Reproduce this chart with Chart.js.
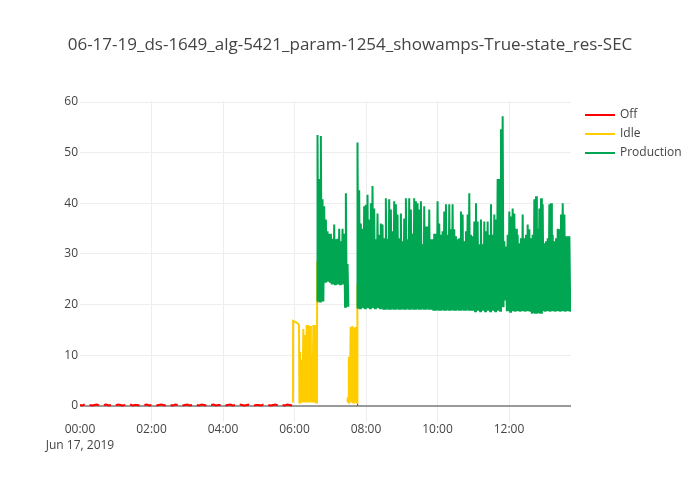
<!DOCTYPE html>
<html><head><meta charset="utf-8">
<script src="https://cdn.jsdelivr.net/npm/chart.js@4.4.1/dist/chart.umd.min.js"></script>
<style>html,body{margin:0;padding:0;background:#fff}canvas{display:block}</style>
</head><body>
<canvas id="c" width="700" height="500"></canvas>
<script>
// ---------------- DATA ----------------
const chartTitle = '06-17-19_ds-1649_alg-5421_param-1254_showamps-True-state_res-SEC';
const seriesNames = ['Off', 'Idle', 'Production'];
const seriesColors = ['#ff0000', '#ffcc00', '#00a651'];

// x in minutes since 00:00, Jun 17 2019
const xTickValues = [0, 120, 240, 360, 480, 600, 720];
const xTickLabels = ['00:00', '02:00', '04:00', '06:00', '08:00', '10:00', '12:00'];
const xDateLabel = 'Jun 17, 2019';
const yTickValues = [0, 10, 20, 30, 40, 50, 60];
const xRange = [0, 824];
const yRange = [-3.17, 60.2];

// Off state: sampled every 4 minutes from 00:00 (null = no Off sample)
const offStart = 0, offStep = 4;
const offValues = [0.2, 0.1, 0.3, null, 0.2, 0.1, 0.2, 0.3, 0.1, null,
                   0.2, 0.3, 0.1, 0.2, null, 0.1, 0.3, 0.2, 0.1, 0.2,
                   null, 0.3, 0.1, 0.2, 0.2, 0.1, null, 0.2, 0.3, 0.1,
                   0.2, null, 0.1, 0.2, 0.3, 0.2, 0.1, null, 0.2, 0.1,
                   0.3, 0.2, null, 0.1, 0.2, 0.3, 0.1, 0.2, null, 0.2,
                   0.1, 0.3, 0.2, 0.1, null, 0.2, 0.3, 0.1, 0.2, 0.2,
                   null, 0.1, 0.2, 0.3, 0.1, 0.2, null, 0.3, 0.2, 0.1,
                   0.2, 0.3, null, 0.1, 0.2, 0.2, 0.1, 0.3, null, 0.2,
                   0.1, 0.2, 0.3, 0.1, null, 0.2, 0.1, 0.3, 0.2, 0.1];
const offTailT = [464.8, 466.8];
const offTailV = [0.3, 0.3];

// Idle state
const idleStep = 2.8;
const idle1LeadT = [357.4, 357.7, 361, 364, 367.5, 368.2];
const idle1LeadV = [0.7, 16.8, 16.6, 16.4, 16.0, 0.7];
const idle1Start = 369.2;
const idle1Peaks = [10.7, 9.1, 15.2, 14.0, 16.0, 16.0, 15.8, 10.1, 16.0, 16.0];
const idle1Trough = 0.7;
const idle1EndT = [397.6, 398.0];
const idle1EndV = [0.7, 28.5];
const idle2LeadT = [448.6, 449.2, 450.0, 450.8];
const idle2LeadV = [0.8, 1.7, 0.8, 1.7];
const idle2Start = 451.4;
const idle2Peaks = [9.7, 15.6, 15.8, 15.5, 15.6];
const idle2Trough = 0.7;
const idle2EndT = [465.2, 465.5];
const idle2EndV = [0.7, 24];

// Production state
const prodStep = 2.8;
const prod1Start = 398.6;
const prod1Peaks = [53.5, 44.8, 53.3, 40.8, 39.4, 36.8, 34.5, 34, 34, 33,
                    35.8, 32.9, 33, 35, 32.5, 35, 34, 42, 28];
const prod1Troughs = [20.6, 20.6, 20.6, 20.6, 24.5, 24.5, 24.5, 24.5, 24, 24,
                      24, 24, 24, 24, 24, 24, 19.6, 19.6, 19.6];
const prod2Start = 465.7;
const prod2Peaks = [52, 42.6, 36, 35, 39.4, 39.7, 41.7, 36.8, 40, 43.4,
                    39, 32.9, 38, 33.8, 36, 35.8, 33.1, 41, 33, 40.8,
                    38.8, 34.5, 40.4, 39.8, 37.8, 33.1, 38, 32.5, 37, 41,
                    32.9, 41, 38.8, 34, 41, 40.4, 40, 38.8, 40.4, 31.9,
                    39.4, 35.4, 35.4, 38.8, 32.9, 32.9, 34, 34, 40.4, 36,
                    33.8, 34.5, 38.4, 39.8, 33.8, 39.8, 34.9, 39.8, 34.9, 33.5,
                    32.9, 33.1, 38.4, 37.8, 32.5, 34.5, 37.8, 42, 33.8, 33.5,
                    36.4, 40, 36.4, 31.9, 36.8, 31.9, 36.4, 34.5, 36.4, 33.8,
                    39.8, 33.8, 37.8, 36.8, 44.8, 44.8, 54.6, 57.2, 32.5, 31.5,
                    33.8, 38.4, 37.4, 39, 38, 35, 33.8, 32.1, 33.1, 37.8,
                    33.1, 33.8, 35.8, 34.9, 33.1, 33.8, 40.8, 41.4, 35, 39,
                    41, 39.8, 32.1, 32.5, 33.1, 39.8, 40, 33.8, 32.5, 33.1,
                    35, 34.9, 37.8, 40, 37.8, 33.5, 33.5, 33.5];
const prod2Troughs = [19.3, 19.3, 19.4, 19.3, 19.3, 19.4, 19.3, 19.3, 19.4, 19.3,
                      19.3, 19.4, 19.3, 19.3, 19.2, 19.0, 19.2, 19.2, 19.0, 19.2,
                      19.2, 19.0, 19.2, 19.2, 19.0, 19.2, 19.2, 19.0, 19.2, 19.2,
                      19.0, 19.2, 19.2, 19.0, 19.2, 19.2, 19.0, 19.2, 19.2, 19.0,
                      19.2, 19.2, 19.0, 19.2, 19.0, 18.8, 19.0, 19.0, 18.8, 19.0,
                      19.0, 18.8, 19.0, 19.0, 18.8, 19.0, 19.0, 18.8, 19.0, 19.0,
                      18.8, 19.0, 19.0, 18.8, 19.0, 19.0, 18.8, 19.0, 18.8, 18.8,
                      18.7, 18.8, 18.8, 18.7, 18.8, 18.8, 18.7, 18.8, 18.8, 18.7,
                      18.8, 18.8, 18.7, 18.8, 18.8, 18.8, 19.5, 19.5, 21, 18.7,
                      18.7, 18.6, 18.7, 18.7, 18.6, 18.7, 18.7, 18.6, 18.7, 18.7,
                      18.6, 18.7, 18.7, 18.6, 18.2, 18.3, 18.2, 18.2, 18.3, 18.2,
                      18.2, 18.7, 18.6, 18.7, 18.7, 18.6, 18.7, 18.7, 18.6, 18.7,
                      18.7, 18.6, 18.7, 18.7, 18.6, 18.7, 18.7, 18.6];

// ---------------- BUILD POINTS ----------------
function pairs(ts, vs) { return ts.map((t, i) => ({x: t, y: vs[i]})); }
function zigzag(start, step, peaks, troughs) {
  const pts = [];
  peaks.forEach((p, i) => {
    const lo = Array.isArray(troughs) ? troughs[i] : troughs;
    const lo0 = Array.isArray(troughs) ? troughs[0] : troughs;
    if (i === 0) pts.push({x: start - 0.2, y: lo0});
    pts.push({x: start + i * step, y: p});
    pts.push({x: start + i * step + step / 2, y: lo});
  });
  return pts;
}
const GAP = (t) => ({x: t, y: null});

const offData = offValues.map((v, i) => ({x: offStart + i * offStep, y: v}))
  .concat([GAP(400)], pairs(offTailT, offTailV));

const idleData = [].concat(
  pairs(idle1LeadT, idle1LeadV),
  zigzag(idle1Start, idleStep, idle1Peaks, idle1Trough),
  pairs(idle1EndT, idle1EndV),
  [GAP(420)],
  pairs(idle2LeadT, idle2LeadV),
  zigzag(idle2Start, idleStep, idle2Peaks, idle2Trough),
  pairs(idle2EndT, idle2EndV)
);

const prodData = [].concat(
  zigzag(prod1Start, prodStep, prod1Peaks, prod1Troughs),
  [GAP(458)],
  zigzag(prod2Start, prodStep, prod2Peaks, prod2Troughs)
);

// ---------------- CHART ----------------
const FONT = "'Open Sans', 'Noto Sans', sans-serif";
Chart.defaults.font.family = FONT;
Chart.defaults.color = '#444';

const legendPlugin = {
  id: 'plotlyLegend',
  afterDraw(chart) {
    const ctx = chart.ctx;
    ctx.save();
    seriesNames.forEach((name, i) => {
      const y = 115 + i * 19;
      ctx.strokeStyle = seriesColors[i];
      ctx.lineWidth = 2;
      ctx.beginPath();
      ctx.moveTo(585, y);
      ctx.lineTo(615, y);
      ctx.stroke();
      ctx.fillStyle = '#444';
      ctx.font = '12px ' + FONT;
      ctx.textBaseline = 'middle';
      ctx.textAlign = 'left';
      ctx.fillText(name, 620, y);
    });
    ctx.restore();
  }
};

const lineDs = (label, data, color, order, width) => ({
  label, data, borderColor: color, backgroundColor: color,
  borderWidth: width, pointRadius: 0, tension: 0, fill: false,
  spanGaps: false, order, parsing: false, normalized: true
});

new Chart(document.getElementById('c'), {
  type: 'line',
  data: {
    datasets: [
      lineDs(seriesNames[0], offData, seriesColors[0], 3, 2),
      lineDs(seriesNames[1], idleData, seriesColors[1], 2, 2),
      lineDs(seriesNames[2], prodData, seriesColors[2], 1, 2)
    ]
  },
  options: {
    responsive: false,
    animation: false,
    devicePixelRatio: 1,
    layout: {padding: 0},
    plugins: {
      legend: {display: false},
      tooltip: {enabled: false},
      title: {
        display: true,
        text: chartTitle,
        color: '#444',
        font: {family: FONT, size: 17, weight: 'normal'},
        padding: {top: 35, bottom: 45.6}
      }
    },
    scales: {
      x: {
        type: 'linear',
        min: xRange[0], max: xRange[1],
        afterBuildTicks: (s) => { s.ticks = xTickValues.map(v => ({value: v})); },
        afterFit: (s) => { s.height = 78; },
        border: {display: false},
        grid: {
          drawTicks: false,
          color: (c) => (c.tick && c.tick.value === 0) ? 'rgba(0,0,0,0)' : '#eeeeee',
          lineWidth: 1
        },
        ticks: {
          autoSkip: false, maxRotation: 0, minRotation: 0,
          padding: 0,
          color: '#444',
          font: {size: 12, lineHeight: 1.333},
          callback: (v) => {
            const i = xTickValues.indexOf(v);
            const lab = i >= 0 ? xTickLabels[i] : '';
            return i === 0 ? [lab, xDateLabel] : lab;
          }
        }
      },
      y: {
        type: 'linear',
        position: 'left',
        min: yRange[0], max: yRange[1],
        afterBuildTicks: (s) => { s.ticks = yTickValues.map(v => ({value: v})); },
        afterFit: (s) => { s.width = 80; },
        border: {display: false},
        grid: {
          drawTicks: false,
          color: (c) => (c.tick && c.tick.value === 0) ? '#9a9a9a' : '#eeeeee',
          lineWidth: (c) => (c.tick && c.tick.value === 0) ? 2 : 1
        },
        ticks: {
          padding: 2,
          color: '#444',
          font: {size: 12},
          callback: (v) => String(v)
        }
      },
      yRight: {
        type: 'linear',
        position: 'right',
        display: true,
        afterFit: (s) => { s.width = 129; },
        border: {display: false},
        grid: {display: false, drawTicks: false},
        ticks: {display: false}
      }
    }
  },
  plugins: [legendPlugin]
});
</script>
</body></html>
